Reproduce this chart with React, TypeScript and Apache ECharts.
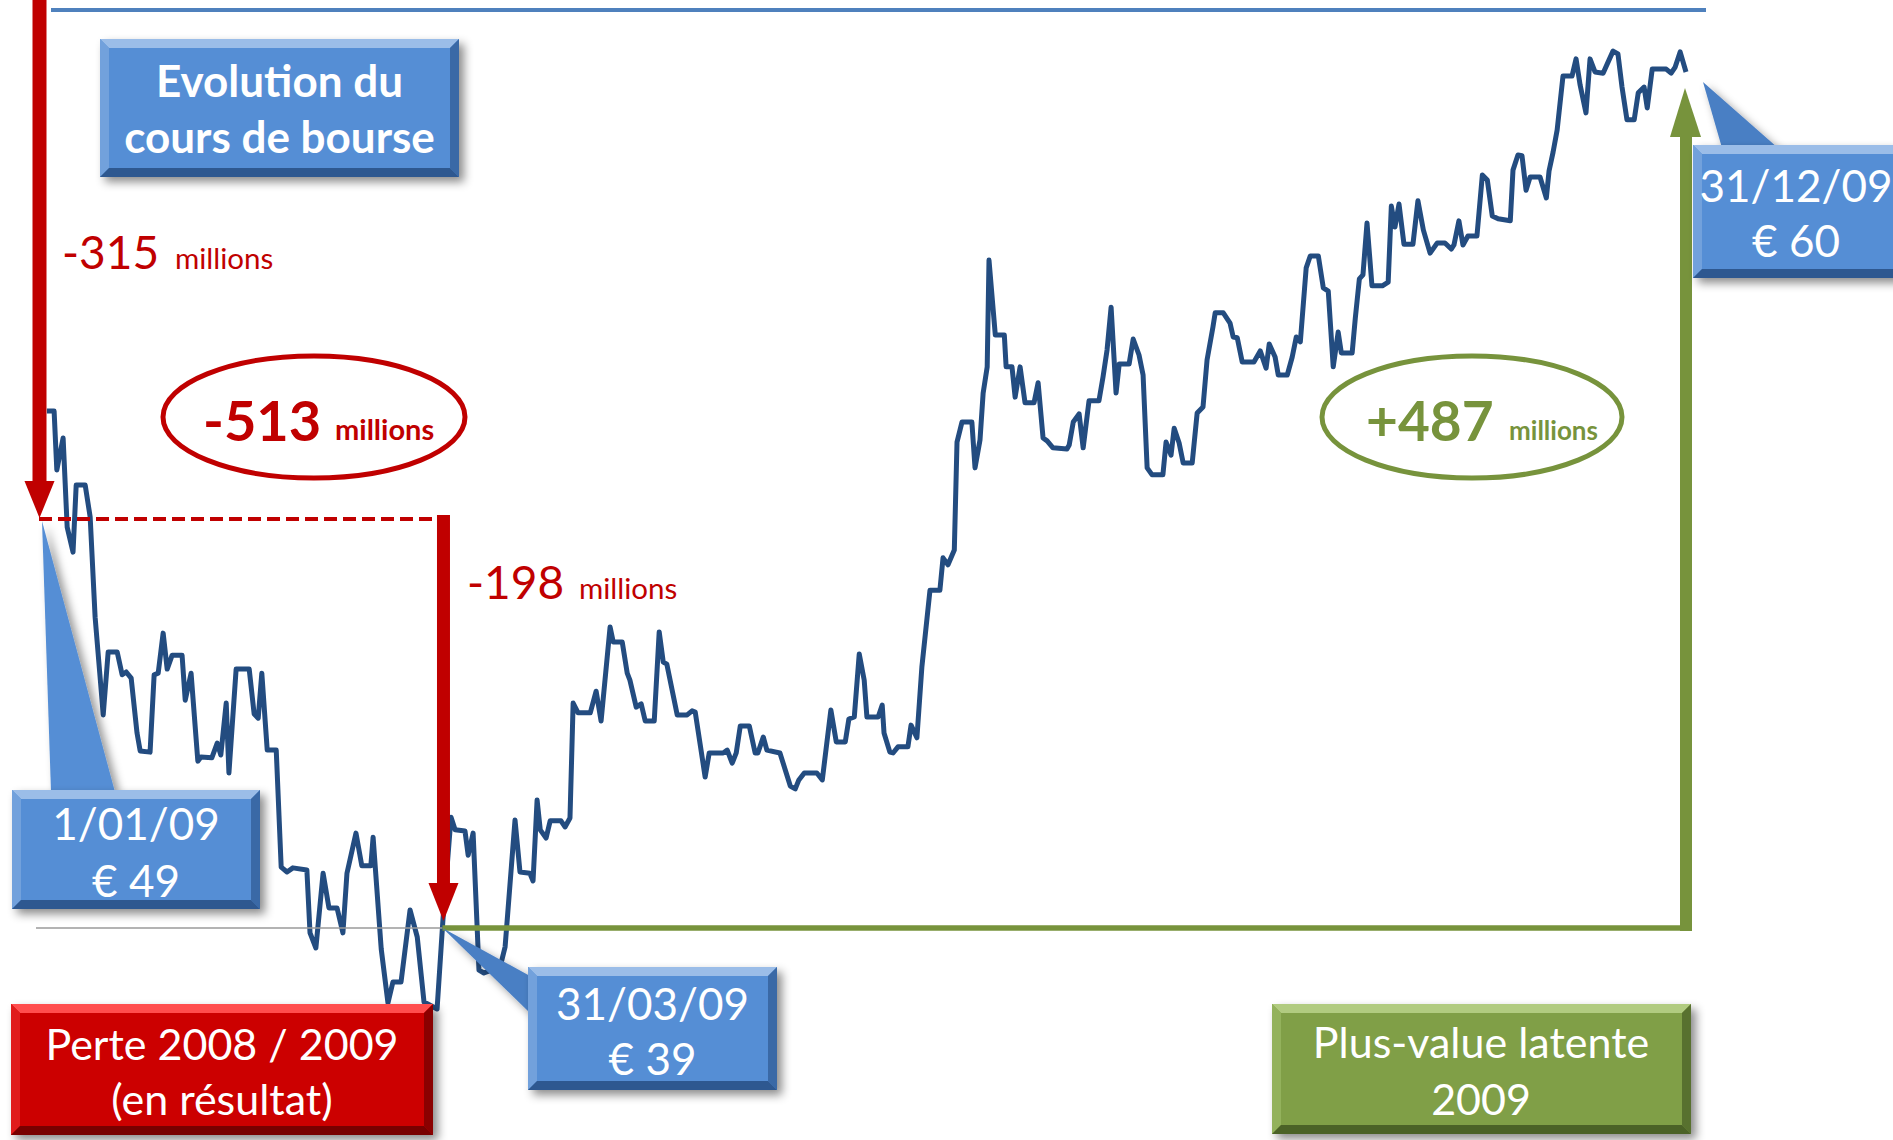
import React, { useEffect, useRef } from 'react';
import * as echarts from 'echarts';

// Day of year 2009 (0 = 1 Jan, 364 = 31 Dec) of each vertex of the price line
const dayOfYear = [
  0.2, 1.8, 2.4, 3.8, 4.7, 6.0, 6.7, 8.7, 9.8, 10.9,
  12.7, 13.8, 15.8, 16.9, 17.8, 18.9, 20.2, 20.9, 23.1, 24.0,
  24.9, 26.0, 26.9, 28.0, 30.2, 30.9, 32.2, 33.7, 34.4, 36.8,
  38.0, 38.8, 40.0, 40.6, 42.2, 45.1, 46.2, 47.1, 47.9, 49.1,
  51.1, 52.2, 53.5, 54.8, 57.9, 58.6, 59.9, 61.5, 62.8, 64.6,
  65.9, 66.8, 68.8, 70.1, 72.1, 72.6, 74.4, 75.9, 77.0, 78.8,
  80.8, 82.4, 83.9, 86.8, 88.1, 89.9, 90.8, 93.0, 93.7, 94.8,
  96.1, 97.2, 100.8, 101.9, 104.1, 105.2, 107.4, 108.1, 109.0, 109.7,
  111.0, 111.9, 114.3, 115.2, 116.3, 117.0, 118.1, 120.8, 122.1, 123.2,
  125.2, 125.9, 127.9, 129.0, 129.6, 131.0, 132.1, 133.0, 135.0, 136.1,
  137.0, 137.8, 140.1, 142.3, 143.4, 144.1, 146.3, 147.2, 150.3, 151.2,
  152.3, 153.2, 154.1, 156.1, 157.4, 158.0, 159.2, 160.0, 162.9, 165.2,
  166.3, 167.1, 168.3, 171.1, 172.3, 174.2, 175.4, 177.4, 178.2, 179.4,
  180.5, 181.6, 182.2, 184.7, 185.6, 186.0, 187.3, 188.0, 189.1, 191.3,
  192.0, 193.3, 194.4, 196.2, 198.4, 199.1, 200.2, 201.6, 202.2, 203.3,
  205.5, 206.2, 207.3, 208.0, 208.9, 209.3, 210.7, 212.7, 213.1, 214.4,
  215.1, 216.2, 217.3, 219.3, 220.2, 221.3, 222.2, 223.5, 226.6, 227.1,
  228.0, 229.3, 230.2, 231.5, 233.7, 234.6, 235.5, 236.4, 237.5, 238.2,
  240.4, 241.3, 242.6, 243.5, 244.4, 245.5, 247.9, 248.6, 249.7, 250.4,
  251.5, 252.4, 254.4, 255.5, 256.8, 257.7, 259.0, 259.5, 261.3, 262.8,
  263.5, 264.4, 265.5, 268.1, 269.5, 270.8, 271.5, 272.8, 273.5, 275.5,
  276.6, 277.5, 278.4, 279.7, 280.6, 282.4, 283.5, 284.6, 285.7, 286.8,
  287.5, 289.9, 290.6, 291.5, 292.3, 293.2, 294.3, 296.6, 297.9, 298.6,
  299.4, 300.3, 301.4, 303.4, 304.5, 305.7, 307.2, 308.8, 310.5, 311.9,
  312.5, 313.6, 314.5, 315.6, 317.6, 318.8, 319.9, 321.0, 322.3, 325.0,
  325.6, 326.7, 327.6, 328.5, 329.4, 331.6, 333.0, 333.6, 334.5, 335.4,
  336.7, 338.7, 339.6, 340.5, 341.8, 342.7, 343.8, 345.6, 346.7, 347.8,
  348.9, 349.8, 350.9, 352.5, 353.4, 354.7, 355.4, 356.5, 359.6, 360.7,
  361.6, 362.7, 364.0,
];

// Share price (EUR) at each vertex
const price = [
  51.64, 51.64, 50.20, 50.98, 48.80, 48.19, 49.83, 49.83, 49.05, 46.60,
  44.21, 45.75, 45.75, 45.19, 45.26, 45.11, 43.77, 43.33, 43.30, 45.19,
  45.23, 46.21, 45.33, 45.67, 45.67, 44.57, 45.23, 43.08, 43.18, 43.16,
  43.52, 43.23, 44.50, 42.79, 45.33, 45.33, 44.23, 44.13, 45.23, 43.35,
  43.35, 40.49, 40.37, 40.47, 40.42, 38.88, 38.51, 40.34, 39.49, 39.49,
  38.88, 40.34, 41.32, 40.52, 40.52, 41.22, 38.49, 37.17, 37.68, 37.68,
  39.44, 38.78, 37.19, 37.02, 39.20, 41.71, 41.40, 41.37, 40.78, 41.32,
  37.97, 37.90, 38.05, 38.54, 41.64, 40.37, 40.34, 40.15, 42.13, 41.40,
  41.20, 41.62, 41.62, 41.47, 41.69, 44.50, 44.26, 44.26, 44.79, 44.06,
  46.36, 45.99, 45.99, 45.23, 45.06, 44.40, 44.48, 44.06, 44.06, 46.24,
  45.50, 45.45, 44.21, 44.21, 44.31, 44.28, 42.69, 43.28, 43.28, 43.35,
  43.03, 43.28, 43.94, 43.94, 43.28, 43.28, 43.67, 43.35, 43.28, 42.47,
  42.40, 42.62, 42.79, 42.79, 42.62, 44.33, 43.55, 43.55, 44.11, 44.16,
  45.70, 45.06, 44.16, 44.16, 44.45, 43.77, 43.30, 43.28, 43.43, 43.43,
  43.96, 43.65, 45.38, 47.26, 47.26, 48.05, 47.88, 48.24, 50.88, 51.37,
  51.37, 50.25, 50.93, 52.08, 52.72, 55.33, 53.50, 53.50, 52.72, 52.72,
  51.98, 52.72, 51.84, 51.84, 52.33, 50.98, 50.91, 50.74, 50.71, 50.81,
  51.37, 51.57, 50.74, 51.89, 51.89, 52.47, 53.13, 54.18, 52.08, 52.79,
  52.79, 53.40, 53.01, 52.52, 50.25, 50.08, 50.08, 50.88, 50.56, 51.22,
  50.86, 50.37, 50.37, 51.59, 51.74, 52.89, 53.69, 54.04, 54.04, 53.79,
  53.45, 53.43, 52.84, 52.84, 53.11, 52.69, 53.28, 52.96, 52.52, 52.52,
  52.96, 53.45, 53.33, 55.14, 55.43, 55.43, 54.65, 54.57, 52.72, 53.57,
  53.06, 53.06, 53.91, 54.87, 54.97, 56.24, 54.70, 54.70, 54.79, 56.65,
  56.14, 56.70, 55.72, 55.72, 56.78, 56.07, 55.50, 55.75, 55.75, 55.60,
  55.70, 56.29, 55.70, 55.92, 55.92, 57.41, 57.29, 56.41, 56.34, 56.29,
  57.53, 57.90, 57.88, 57.04, 57.36, 57.36, 56.85, 57.51, 57.97, 58.51,
  59.83, 59.83, 60.25, 59.61, 58.93, 60.25, 59.93, 59.90, 60.17, 60.44,
  60.37, 59.56, 58.76, 58.76, 59.42, 59.56, 59.05, 60.00, 60.00, 59.90,
  60.05, 60.42, 59.93,
];

// Reference levels and dates used by the annotations
const levelStart = 49; // 1/01/09
const levelLoss = 39; // 31/03/09
const lossDay = 88; // position of 31/03/09 on the axis
const yMin = 36;
const yMax = 61;

// Texts
const titleLines = ['Evolution du', 'cours de bourse'];
const callStart = ['1/01/09', '€ 49'];
const callLoss = ['31/03/09', '€ 39'];
const callEnd = ['31/12/09', '€ 60'];
const lossBox = ['Perte 2008 / 2009', '(en résultat)'];
const gainBox = ['Plus-value latente', '2009'];

const FONT = 'Lato, "Noto Sans", sans-serif';
const RED = '#C00000';
const GREEN = '#77933C';
const LINE = '#234C80';

type Pal = { face: string; top: string; left: string; right: string; bottom: string };
const BLUE_P: Pal = { face: '#558ED5', top: '#9BBDE8', left: '#72A1DC', right: '#3A69A6', bottom: '#2E5890' };
const RED_P: Pal = { face: '#CC0000', top: '#FF4D4D', left: '#E01C1C', right: '#8A0000', bottom: '#780000' };
const GREEN_P: Pal = { face: '#809F47', top: '#B1CB80', left: '#93B25C', right: '#58712F', bottom: '#4B6227' };

const Z = 100;

function bevel(x: number, y: number, w: number, h: number, p: Pal, b = 9): any[] {
  return [
    {
      type: 'rect', z: Z, shape: { x, y, width: w, height: h },
      style: { fill: p.face, shadowBlur: 10, shadowOffsetX: 5, shadowOffsetY: 5, shadowColor: 'rgba(0,0,0,0.45)' },
    },
    { type: 'polygon', z: Z, shape: { points: [[x, y], [x + w, y], [x + w - b, y + b], [x + b, y + b]] }, style: { fill: p.top } },
    { type: 'polygon', z: Z, shape: { points: [[x, y], [x + b, y + b], [x + b, y + h - b], [x, y + h]] }, style: { fill: p.left } },
    { type: 'polygon', z: Z, shape: { points: [[x + w, y], [x + w, y + h], [x + w - b, y + h - b], [x + w - b, y + b]] }, style: { fill: p.right } },
    { type: 'polygon', z: Z, shape: { points: [[x, y + h], [x + b, y + h - b], [x + w - b, y + h - b], [x + w, y + h]] }, style: { fill: p.bottom } },
  ];
}

function txt(x: number, baseline: number, s: string, size: number, fill: string, weight = 'normal', align = 'left'): any {
  return {
    type: 'text', z: Z + 1, x, y: baseline - 0.35 * size,
    style: {
      text: s, fill, font: `${weight} ${size}px ${FONT}`,
      textAlign: align, align, textVerticalAlign: 'middle', verticalAlign: 'middle',
    },
  };
}

export default function App() {
  const ref = useRef<HTMLDivElement>(null);
  useEffect(() => {
    if (!ref.current) return;
    const chart = echarts.init(ref.current, null, { renderer: 'svg' });
    const gridTop = 28.2;
    const gridH = 1022.5;
    chart.setOption({
      animation: false,
      backgroundColor: '#ffffff',
      grid: { left: 46, top: gridTop, width: 1640, height: gridH, containLabel: false },
      xAxis: { type: 'value', min: 0, max: 364, show: false },
      yAxis: { type: 'value', min: yMin, max: yMax, show: false },
      series: [
        {
          type: 'line',
          data: dayOfYear.map((d, i) => [d, price[i]]),
          showSymbol: false,
          symbol: 'none',
          clip: false,
          lineStyle: { color: LINE, width: 5, join: 'round' },
          z: 2,
        },
      ],
    });

    const px = (d: number, v: number) => chart.convertToPixel({ gridIndex: 0 }, [d, v]) as number[];
    const [x0, y49] = px(0, levelStart);
    const [xLoss, y39] = px(lossDay, levelLoss);

    const els: any[] = [];
    // top border line
    els.push({ type: 'line', z: Z, shape: { x1: 51, y1: 10, x2: 1706, y2: 10 }, style: { stroke: '#4F81BD', lineWidth: 4 } });

    // grey reference line at 39
    els.push({ type: 'line', z: Z, shape: { x1: 36, y1: y39, x2: xLoss, y2: y39 }, style: { stroke: '#9A9A9A', lineWidth: 1.5 } });

    // red dashed line at 49
    els.push({ type: 'line', z: Z, shape: { x1: x0 - 7, y1: y49, x2: xLoss + 6, y2: y49 }, style: { stroke: RED, lineWidth: 4, lineDash: [13, 6] } });

    // left red arrow
    const ax = x0 - 6.5;
    els.push({ type: 'rect', z: Z, shape: { x: ax - 7, y: 0, width: 14, height: y49 - 36 }, style: { fill: RED } });
    els.push({ type: 'polygon', z: Z, shape: { points: [[ax - 15, y49 - 38], [ax + 15, y49 - 38], [ax, y49 - 1]] }, style: { fill: RED } });

    // middle red arrow
    const mx = xLoss + 1;
    els.push({ type: 'rect', z: Z, shape: { x: mx - 6.5, y: y49 - 4, width: 13, height: y39 - 40 - (y49 - 4) }, style: { fill: RED } });
    els.push({ type: 'polygon', z: Z, shape: { points: [[mx - 15, y39 - 45], [mx + 15, y39 - 45], [mx, y39 - 7]] }, style: { fill: RED } });

    // green L-shaped arrow
    const gx = 1686;
    els.push({ type: 'line', z: Z, shape: { x1: xLoss, y1: y39, x2: gx + 6, y2: y39 }, style: { stroke: GREEN, lineWidth: 5.5 } });
    els.push({ type: 'rect', z: Z, shape: { x: gx - 6, y: 134, width: 12, height: y39 + 3 - 134 }, style: { fill: GREEN } });
    els.push({ type: 'polygon', z: Z, shape: { points: [[gx - 16, 137], [gx + 15, 137], [gx - 1, 88]] }, style: { fill: GREEN } });

    // ellipses
    els.push({ type: 'ellipse', z: Z, shape: { cx: 314, cy: 417, rx: 151, ry: 61 }, style: { fill: 'none', stroke: RED, lineWidth: 5 } });
    els.push({ type: 'ellipse', z: Z, shape: { cx: 1472, cy: 417, rx: 150, ry: 61 }, style: { fill: 'none', stroke: GREEN, lineWidth: 5 } });

    // texts in red / green
    els.push(txt(62, 268, '-315', 46, RED));
    els.push(txt(175, 268, 'millions', 29.5, RED));
    els.push(txt(467, 598, '-198', 46, RED));
    els.push(txt(579, 598, 'millions', 29.5, RED));
    els.push(txt(203, 439, '-513', 56, RED, 'bold'));
    els.push(txt(335, 439, 'millions', 29, RED, 'bold'));
    els.push(txt(1366, 439, '+487', 55, GREEN, 'bold'));
    els.push(txt(1509, 439, 'millions', 26, GREEN, 'bold'));

    // title box
    els.push(...bevel(100, 39, 359, 138, BLUE_P));
    els.push(txt(279.5, 95, titleLines[0], 44, '#FFFFFF', 'bold', 'center'));
    els.push(txt(279.5, 151, titleLines[1], 44, '#FFFFFF', 'bold', 'center'));

    // callout 1/01/09
    els.push({
      type: 'polygon', z: Z, shape: { points: [[x0 - 4, y49 + 2], [51, 792], [115, 792]] },
      style: { fill: '#558ED5', shadowBlur: 8, shadowOffsetX: 5, shadowOffsetY: 3, shadowColor: 'rgba(0,0,0,0.4)' },
    });
    els.push(...bevel(12, 790, 248, 119, BLUE_P));
    els.push(txt(136, 838, callStart[0], 44, '#FFFFFF', 'normal', 'center'));
    els.push(txt(136, 895, callStart[1], 44, '#FFFFFF', 'normal', 'center'));

    // callout 31/03/09
    els.push({
      type: 'polygon', z: Z, shape: { points: [[xLoss, y39], [530, 976], [530, 1013]] },
      style: { fill: '#4A7FC4', shadowBlur: 8, shadowOffsetX: 4, shadowOffsetY: 4, shadowColor: 'rgba(0,0,0,0.4)' },
    });
    els.push(...bevel(528, 967, 249, 123, BLUE_P));
    els.push(txt(652.5, 1018, callLoss[0], 44, '#FFFFFF', 'normal', 'center'));
    els.push(txt(652.5, 1073, callLoss[1], 44, '#FFFFFF', 'normal', 'center'));

    // callout 31/12/09
    els.push({
      type: 'polygon', z: Z, shape: { points: [[1703, 82], [1722, 148], [1778, 148]] },
      style: { fill: '#4A7FC4', shadowBlur: 8, shadowOffsetX: 4, shadowOffsetY: 4, shadowColor: 'rgba(0,0,0,0.4)' },
    });
    els.push(...bevel(1693, 145, 210, 133, BLUE_P));
    els.push(txt(1796, 200, callEnd[0], 44, '#FFFFFF', 'normal', 'center'));
    els.push(txt(1796, 255, callEnd[1], 44, '#FFFFFF', 'normal', 'center'));

    // red box
    els.push(...bevel(11, 1004, 422, 131, RED_P));
    els.push(txt(222, 1059, lossBox[0], 43, '#FFFFFF', 'normal', 'center'));
    els.push(txt(222, 1114, lossBox[1], 43, '#FFFFFF', 'normal', 'center'));

    // green box
    els.push(...bevel(1272, 1004, 419, 130, GREEN_P));
    els.push(txt(1481, 1057, gainBox[0], 43, '#FFFFFF', 'normal', 'center'));
    els.push(txt(1481, 1114, gainBox[1], 43, '#FFFFFF', 'normal', 'center'));

    chart.setOption({ graphic: { elements: els } });
    return () => chart.dispose();
  }, []);
  return (
    <div
      ref={ref}
      style={{ position: 'fixed', left: 0, top: 0, width: 1893, height: 1140, background: '#ffffff' }}
    />
  );
}
